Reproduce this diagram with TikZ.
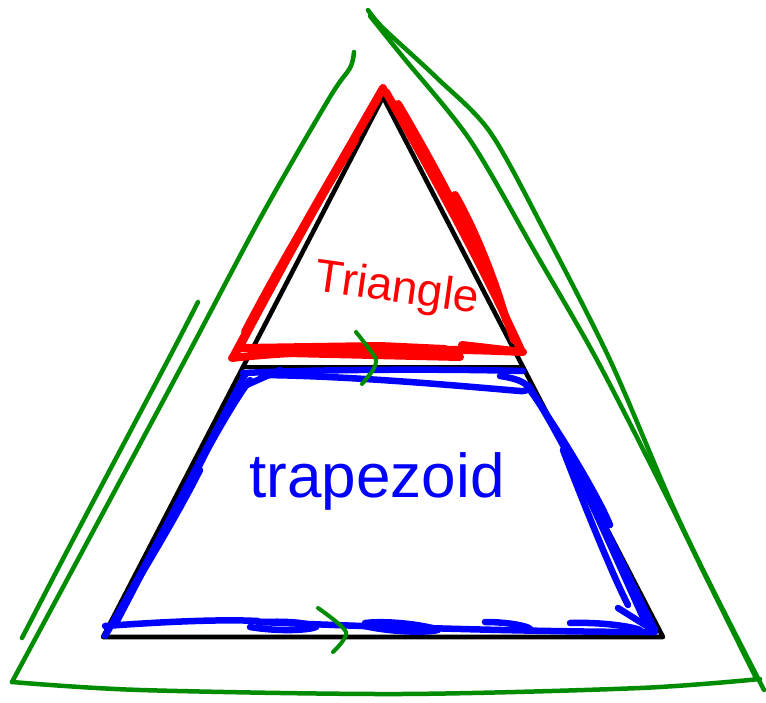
\documentclass[tikz,border=0pt]{standalone}
\usepackage{fontspec}
\setmainfont{Liberation Sans}
\definecolor{gr}{RGB}{0,140,0}
\begin{document}
\begin{tikzpicture}[x=1pt,y=-1pt,line cap=round,line join=round,
  blk/.style={draw=black,line width=4.6pt},
  redp/.style={draw=red,line width=8pt},
  bluep/.style={draw=blue,line width=6.5pt},
  grn/.style={draw=gr,line width=4.5pt},
  lbl/.style={inner sep=0pt}]
\fill[white] (0,0) rectangle (766,702);
\useasboundingbox (0,0) rectangle (766,702);

% black figure
\draw[blk] (383,97) -- (663,637) -- (103,637) -- cycle;
\draw[blk] (243,367) -- (523,367);

% green outer triangle
\draw[grn] plot[smooth] coordinates {(354,52) (350,68) (330,97) (262,215) (185,360) (90,537) (12,682)};
\draw[grn] plot[smooth] coordinates {(198,302) (168,360) (85,517) (52,580) (22,638)};
\draw[grn] plot[smooth] coordinates {(368,10) (383,28) (437,78) (490,132) (545,232) (610,360) (670,500) (708,580) (764,690)};
\draw[grn] plot[smooth] coordinates {(370,16) (403,57) (470,140) (535,252) (597,360) (665,493) (705,575) (756,678)};
\draw[grn] plot[smooth] coordinates {(12,682) (140,690) (400,694) (640,688) (760,679)};

% red triangle strokes
\draw[redp] (383,88) .. controls (330,180) and (280,270) .. (233,357);
\draw[redp] (378,98) .. controls (330,180) and (280,270) .. (238,350);
\draw[redp] (355,140) .. controls (320,200) and (285,255) .. (245,332);
\draw[redp] (370,112) .. controls (330,180) and (300,230) .. (270,290);
\draw[redp] (386,92) .. controls (430,170) and (480,260) .. (521,350);
\draw[redp] (398,104) .. controls (440,175) and (490,270) .. (514,340);
\draw[redp] (455,195) .. controls (475,230) and (495,280) .. (506,320);
\draw[redp] (232,358) .. controls (300,350) and (420,347) .. (522,352);
\draw[redp] (242,348) -- (380,346) -- (445,349);
\draw[redp] (287,353) -- (460,357);
\draw[redp] (462,345) -- (523,352);

% blue trapezoid strokes
\draw[bluep] (243,373) .. controls (330,369) and (450,369) .. (523,371);
\draw[bluep] (262,375) .. controls (350,376) and (450,385) .. (520,391) .. controls (535,392) and (530,380) .. (500,376);
\draw[bluep] (240,388) -- (280,370);
\draw[bluep] (528,385) .. controls (570,450) and (620,560) .. (655,630);
\draw[bluep] (530,390) .. controls (565,440) and (600,500) .. (610,525);
\draw[bluep] (563,450) .. controls (590,520) and (615,580) .. (628,605);
\draw[bluep] (575,470) .. controls (600,520) and (630,590) .. (648,628);
\draw[bluep] (618,608) -- (645,625);
\draw[bluep] (245,375) .. controls (210,440) and (150,560) .. (105,636);
\draw[bluep] (250,380) .. controls (220,420) and (170,520) .. (115,625);
\draw[bluep] (240,385) .. controls (215,430) and (185,500) .. (160,540);
\draw[bluep] (200,470) .. controls (180,510) and (150,560) .. (120,610);
\draw[bluep] (105,626) .. controls (160,622) and (220,619) .. (258,621);
\draw[bluep] (250,627) .. controls (280,632) and (310,630) .. (316,627) .. controls (300,620) and (270,622) .. (258,622);
\draw[bluep] (259,622) .. controls (400,628) and (550,632) .. (655,632);
\draw[bluep] (365,623) .. controls (390,620) and (430,626) .. (438,630) .. controls (420,634) and (380,630) .. (365,626);
\draw[bluep] (485,622) .. controls (510,622) and (535,627) .. (530,631);
\draw[bluep] (570,623) .. controls (600,622) and (630,626) .. (640,630);

% green tick marks
\draw[grn,line width=4pt] plot[smooth] coordinates {(356,332) (370,350) (376,360) (373,370) (362,384)};
\draw[grn,line width=4pt] plot[smooth] coordinates {(318,608) (346,632) (333,652)};

% labels
\node[lbl,text=red,font=\fontsize{46}{50}\selectfont,rotate=-8] (tri) at (397,290) {Triangle};
\node[lbl,text=blue,font=\fontsize{62}{66}\selectfont,anchor=base] (trap) at (377,497) {trapezoid};
\end{tikzpicture}
\end{document}
